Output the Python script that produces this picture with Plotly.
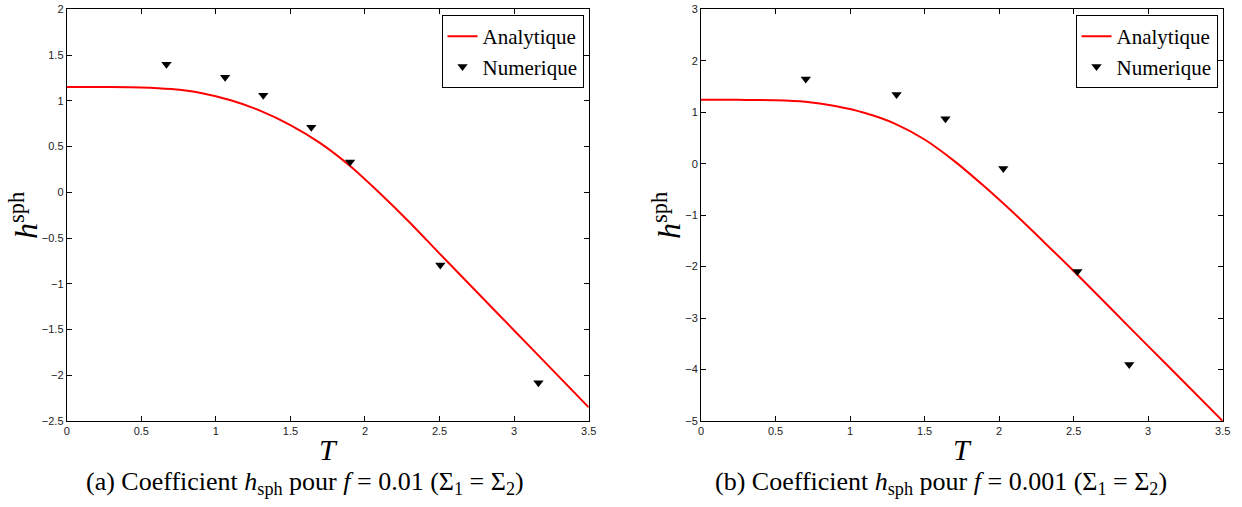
import plotly.graph_objects as go

# ---------------- data ----------------
# (a) f = 0.01
T_line_a = [0, 0.25, 0.5, 0.7, 0.9, 1.1, 1.3, 1.5, 1.7, 1.9, 2.1, 2.3, 2.5, 2.75, 3.0, 3.25, 3.5]
h_line_a = [1.150, 1.150, 1.146, 1.128, 1.085, 1.005, 0.890, 0.735, 0.538, 0.288, -0.010,
            -0.330, -0.670, -1.090, -1.510, -1.930, -2.350]
T_num_a = [0.669, 1.062, 1.318, 1.640, 1.900, 2.505, 3.163]
h_num_a = [1.40, 1.256, 1.060, 0.711, 0.332, -0.795, -2.083]

# (b) f = 0.001
T_line_b = [0, 0.25, 0.5, 0.7, 0.9, 1.1, 1.3, 1.5, 1.7, 1.9, 2.1, 2.3, 2.5, 2.75, 3.0, 3.25, 3.5]
h_line_b = [1.240, 1.240, 1.235, 1.205, 1.120, 0.985, 0.780, 0.470, 0.050, -0.440, -0.965,
            -1.520, -2.085, -2.815, -3.545, -4.270, -5.000]
T_num_b = [0.703, 1.312, 1.640, 2.028, 2.525, 2.873]
h_num_b = [1.645, 1.345, 0.874, -0.095, -2.093, -3.900]

x_ticks = [0, 0.5, 1, 1.5, 2, 2.5, 3, 3.5]
captions = ["(a) Coefficient <i>h</i><sub>sph</sub> pour <i>f</i> = 0.01 (Σ<sub>1</sub> = Σ<sub>2</sub>)",
            "(b) Coefficient <i>h</i><sub>sph</sub> pour <i>f</i> = 0.001 (Σ<sub>1</sub> = Σ<sub>2</sub>)"]

# ---------------- figure ----------------
W, H = 1242, 507
SERIF = "Liberation Serif"
SANS = "Liberation Sans"

fig = go.Figure()

fig.add_trace(go.Scatter(x=T_line_a, y=h_line_a, mode="lines", name="Analytique",
                         line=dict(color="#ff0000", width=2, shape="spline", smoothing=0.8),
                         xaxis="x", yaxis="y", legend="legend"))
fig.add_trace(go.Scatter(x=T_num_a, y=h_num_a, mode="markers", name="Numerique",
                         marker=dict(symbol="triangle-down", size=9, color="black"),
                         xaxis="x", yaxis="y", legend="legend"))
fig.add_trace(go.Scatter(x=T_line_b, y=h_line_b, mode="lines", name="Analytique",
                         line=dict(color="#ff0000", width=2, shape="spline", smoothing=0.8),
                         xaxis="x2", yaxis="y2", legend="legend2"))
fig.add_trace(go.Scatter(x=T_num_b, y=h_num_b, mode="markers", name="Numerique",
                         marker=dict(symbol="triangle-down", size=9, color="black"),
                         xaxis="x2", yaxis="y2", legend="legend2"))

def px(x):
    return x / W

def py(y):
    return 1 - y / H

left_a, right_a = 66.7, 588.7
left_b, right_b = 701.0, 1222.7
top, bottom = 9.3, 421.0

axis_common = dict(showline=True, linecolor="black", linewidth=1, mirror="ticks",
                   ticks="inside", ticklen=5, tickcolor="black", tickwidth=1,
                   showgrid=False, zeroline=False, automargin=False,
                   tickfont=dict(family=SANS, size=11, color="#222222"))

legend_common = dict(xanchor="right", yanchor="top",
                     bgcolor="white", bordercolor="black", borderwidth=1,
                     font=dict(family=SERIF, size=21, color="black"),
                     tracegroupgap=0, itemwidth=30)

fig.update_layout(
    width=W, height=H,
    margin=dict(l=0, r=0, t=0, b=0, pad=0, autoexpand=False),
    paper_bgcolor="white", plot_bgcolor="white",
    xaxis=dict(domain=[px(left_a), px(right_a)], range=[0, 3.5], tickvals=x_ticks,
               anchor="y", **axis_common),
    yaxis=dict(domain=[py(bottom), py(top)], range=[-2.5, 2], dtick=0.5,
               anchor="x", **axis_common),
    xaxis2=dict(domain=[px(left_b), px(right_b)], range=[0, 3.5], tickvals=x_ticks,
                anchor="y2", **axis_common),
    yaxis2=dict(domain=[py(bottom), py(top)], range=[-5, 3], dtick=1,
                anchor="x2", **axis_common),
    legend=dict(x=px(583.5), y=py(15), **legend_common),
    legend2=dict(x=px(1217.5), y=py(15), **legend_common),
)

annotations = []
# x-axis titles
for cx in [(left_a + right_a) / 2, (left_b + right_b) / 2]:
    annotations.append(dict(text="<i>T</i>", x=px(cx + 1), y=py(449), xref="paper", yref="paper",
                            xanchor="center", yanchor="middle", showarrow=False,
                            font=dict(family=SERIF, size=30, color="black")))
# y-axis titles
for cx in [24, 667]:
    annotations.append(dict(text="<i>h</i><sup>sph</sup>", x=px(cx), y=py(216), xref="paper", yref="paper",
                            xanchor="center", yanchor="middle", showarrow=False, textangle=-90,
                            font=dict(family=SERIF, size=32, color="black")))
# captions
for cap, cx in zip(captions, [305, 941]):
    annotations.append(dict(text=cap, x=px(cx), y=py(483), xref="paper", yref="paper",
                            xanchor="center", yanchor="middle", showarrow=False,
                            font=dict(family=SERIF, size=26, color="black")))
fig.update_layout(annotations=annotations)

fig.write_html("out.html", config={"displayModeBar": False},
               post_script="document.body.style.margin='0';document.body.style.overflow='hidden';")
